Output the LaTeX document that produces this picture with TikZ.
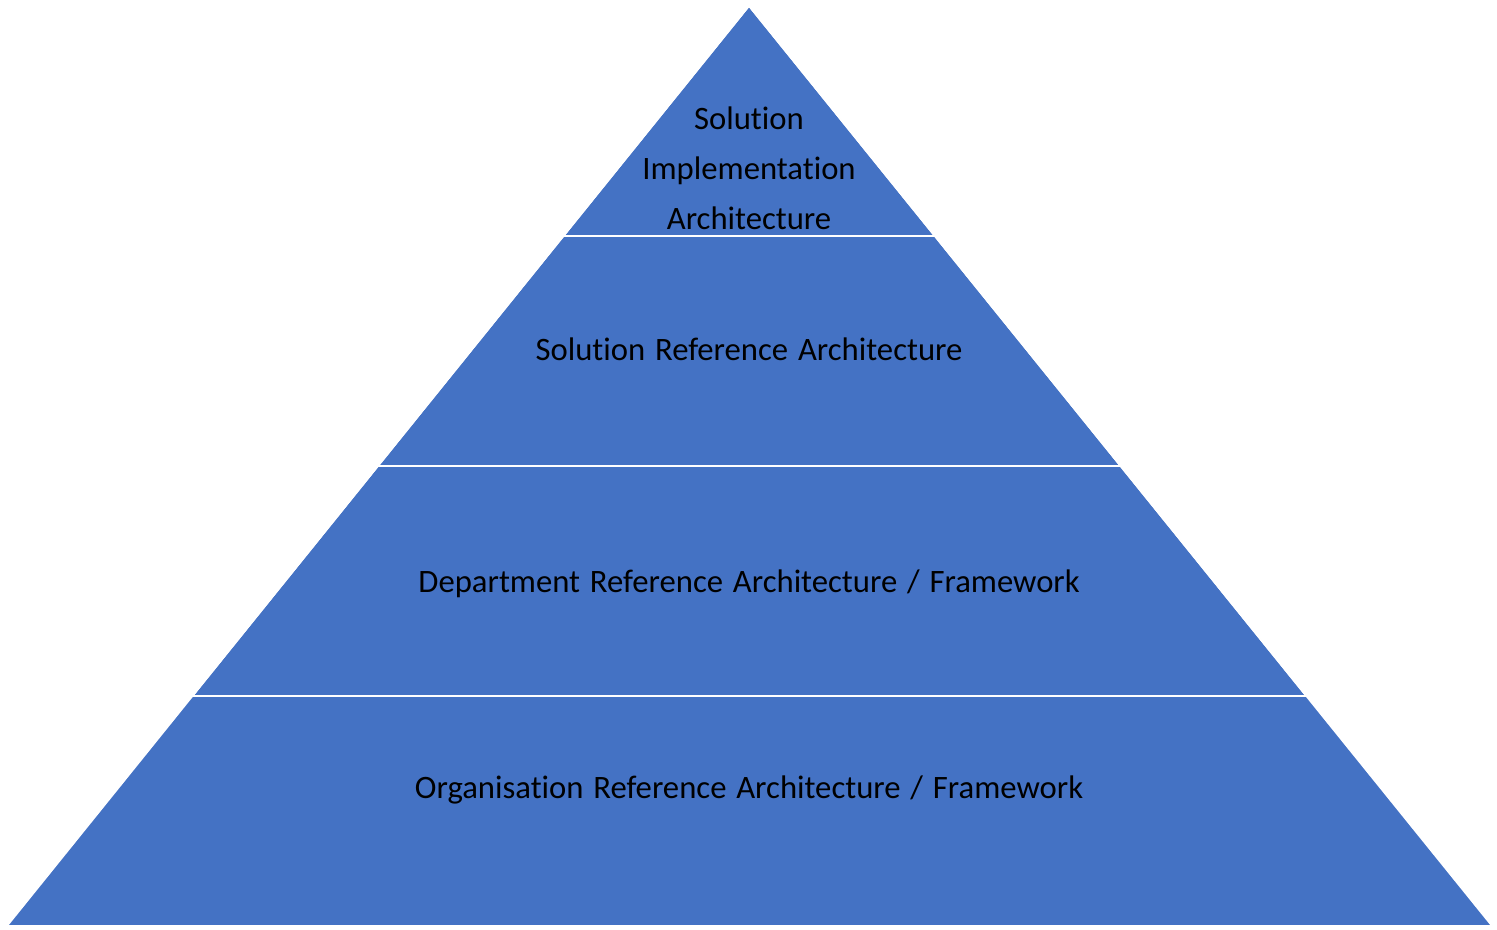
\documentclass[tikz,border=0pt]{standalone}
\usepackage{fontspec}
\setmainfont[Ligatures={NoCommon}]{Carlito}
\usepackage{xcolor}
\usetikzlibrary{calc}
\definecolor{pyblue}{RGB}{68,114,196}
\newcommand{\pyfont}{\fontsize{18.6}{28.5}\selectfont\spaceskip=0.3em\relax}

\begin{document}
\begin{tikzpicture}[
  layer/.style={fill=pyblue, draw=white, line width=0.9pt, line join=miter},
  label/.style={font=\pyfont, text=black, align=center, inner sep=0pt}
]
  \useasboundingbox (0,0) rectangle (29.94,-18.58);

  % corners of the pyramid
  \coordinate (apex) at (14.98,-0.12);
  \coordinate (bl) at (0.14,-18.52);
  \coordinate (br) at (29.84,-18.52);

  % split points on the two sides
  \coordinate (l1) at ($(apex)!0.25!(bl)$);
  \coordinate (r1) at ($(apex)!0.25!(br)$);
  \coordinate (l2) at ($(apex)!0.5!(bl)$);
  \coordinate (r2) at ($(apex)!0.5!(br)$);
  \coordinate (l3) at ($(apex)!0.75!(bl)$);
  \coordinate (r3) at ($(apex)!0.75!(br)$);

  % layers, top to bottom
  \fill[layer] (apex) -- (r1) -- (l1) -- cycle;
  \fill[layer] (l1) -- (r1) -- (r2) -- (l2) -- cycle;
  \fill[layer] (l2) -- (r2) -- (r3) -- (l3) -- cycle;
  \fill[layer] (l3) -- (r3) -- (br) -- (bl) -- cycle;
  \draw[layer, fill=none] (apex) -- (r1) -- (l1) -- cycle
    (l1) -- (r1) -- (r2) -- (l2) -- cycle
    (l2) -- (r2) -- (r3) -- (l3) -- cycle;

  % texts
  \node[label] (impl) at (14.98,-3.37) {Solution\\Implementation\\Architecture};
  \node[label] (solref) at (14.98,-6.99) {Solution Reference Architecture};
  \node[label] (deptref) at (14.98,-11.68) {Department Reference Architecture / Framework};
  \node[label] (orgref) at (14.98,-15.80) {Organisation Reference Architecture / Framework};
\end{tikzpicture}
\end{document}
